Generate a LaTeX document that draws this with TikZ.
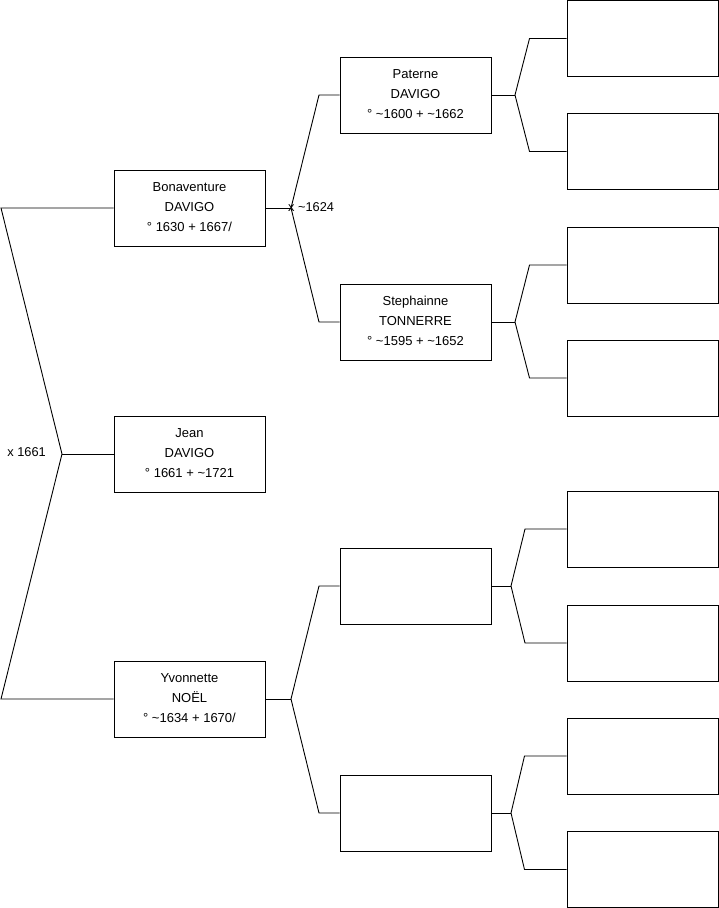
\documentclass[tikz,border=0pt]{standalone}
\usepackage{fontspec}
\setmainfont{Liberation Sans}
\newcommand{\personlines}[3]{\rule{0pt}{10pt}#1\\#2\\#3\rule[-4pt]{0pt}{4pt}}
\begin{document}
\begin{tikzpicture}[x=1pt,y=-1pt,
  person/.style={draw=black,line width=1pt,minimum width=151pt,minimum height=76pt,inner sep=0pt,align=center,font=\fontsize{13}{20}\selectfont},
  link/.style={draw=black,line width=0.9pt},
  lbl/.style={font=\fontsize{12.8}{15}\selectfont,inner sep=0pt}]
\useasboundingbox (0,0) rectangle (719,908);
% generation 1
\node[person] (jean) at (189.5,454) {\personlines{Jean}{DAVIGO}{° 1661 + \textasciitilde1721}};
% generation 2
\node[person] (bon) at (189.5,208) {\personlines{Bonaventure}{DAVIGO}{° 1630 + 1667/}};
\node[person] (yvo) at (189.5,699) {\personlines{Yvonnette}{NOËL}{° \textasciitilde1634 + 1670/}};
% generation 3
\node[person] (pat) at (415.5,95) {\personlines{Paterne}{DAVIGO}{° \textasciitilde1600 + \textasciitilde1662}};
\node[person] (ste) at (415.5,322) {\personlines{Stephainne}{TONNERRE}{° \textasciitilde1595 + \textasciitilde1652}};
\node[person] (e3) at (415.5,586) {};
\node[person] (e4) at (415.5,813) {};
% generation 4
\node[person] (r1) at (642.5,38.5) {};
\node[person] (r2) at (642.5,151.5) {};
\node[person] (r3) at (642.5,265) {};
\node[person] (r4) at (642.5,378) {};
\node[person] (r5) at (642.5,529) {};
\node[person] (r6) at (642.5,643) {};
\node[person] (r7) at (642.5,756) {};
\node[person] (r8) at (642.5,869.5) {};
% jean's parents
\coordinate (fj) at (62,454);
\coordinate (bj1) at (1,208);
\coordinate (bj2) at (1,699);
\draw[link] (jean.west) -- (fj);
\draw[link] (fj) -- (bj1) -- (bon.west);
\draw[link] (fj) -- (bj2) -- (yvo.west);
\node[lbl,anchor=east] (mj) at (46,452) {x 1661};
% bonaventure's parents
\coordinate (fb) at (291,208);
\coordinate (bb1) at (319,95);
\coordinate (bb2) at (319,322);
\draw[link] (bon.east) -- (fb);
\draw[link] (fb) -- (bb1) -- (pat.west);
\draw[link] (fb) -- (bb2) -- (ste.west);
\node[lbl,anchor=west] (mb) at (288,207) {x \textasciitilde1624};
% yvonnette's parents
\coordinate (fy) at (291,699);
\coordinate (by1) at (319,586);
\coordinate (by2) at (319,813);
\draw[link] (yvo.east) -- (fy);
\draw[link] (fy) -- (by1) -- (e3.west);
\draw[link] (fy) -- (by2) -- (e4.west);
% paterne's parents
\coordinate (fp) at (515,95);
\coordinate (bp1) at (529.5,38.5);
\coordinate (bp2) at (529.5,151.5);
\draw[link] (pat.east) -- (fp);
\draw[link] (fp) -- (bp1) -- (r1.west);
\draw[link] (fp) -- (bp2) -- (r2.west);
% stephainne's parents
\coordinate (fs) at (515,322);
\coordinate (bs1) at (529.5,265);
\coordinate (bs2) at (529.5,378);
\draw[link] (ste.east) -- (fs);
\draw[link] (fs) -- (bs1) -- (r3.west);
\draw[link] (fs) -- (bs2) -- (r4.west);
% e3's parents
\coordinate (f3) at (511,586);
\coordinate (b31) at (525,529);
\coordinate (b32) at (525,643);
\draw[link] (e3.east) -- (f3);
\draw[link] (f3) -- (b31) -- (r5.west);
\draw[link] (f3) -- (b32) -- (r6.west);
% e4's parents
\coordinate (f4) at (511,813);
\coordinate (b41) at (524.5,756);
\coordinate (b42) at (524.5,869.5);
\draw[link] (e4.east) -- (f4);
\draw[link] (f4) -- (b41) -- (r7.west);
\draw[link] (f4) -- (b42) -- (r8.west);
\end{tikzpicture}
\end{document}
